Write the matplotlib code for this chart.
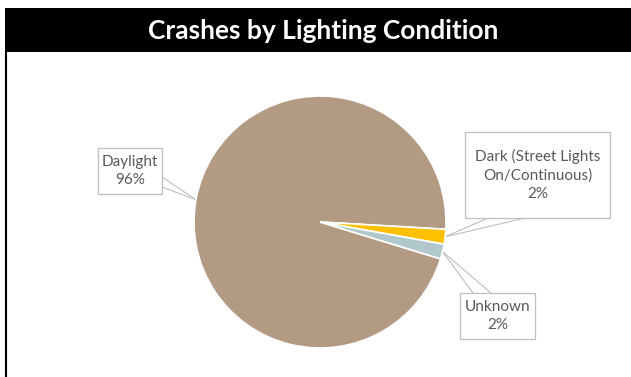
import numpy as np
import matplotlib
matplotlib.use("Agg")
import matplotlib.pyplot as plt
from matplotlib.patches import Rectangle

plt.rcParams['font.family'] = ['Lato', 'DejaVu Sans']

# data
title = "Crashes by Lighting Condition"
categories = ["Daylight", "Dark (Street Lights\nOn/Continuous)", "Unknown"]
shares = [96.2, 1.9, 1.9]
pct_labels = ["96%", "2%", "2%"]
colors = ["#B39B83", "#FFC000", "#B0C8CB"]

W, H = 631, 377
fig = plt.figure(figsize=(W / 100, H / 100), dpi=100)

# background axes in pixel coordinates (y down)
bg = fig.add_axes([0, 0, 1, 1])
bg.set_xlim(0, W)
bg.set_ylim(H, 0)
bg.axis("off")

# title bar and frame
bg.add_patch(Rectangle((5, 8), W - 5, 44, facecolor="black", edgecolor="none"))
bg.plot([6, 6], [52, H], color="black", lw=1.5)
bg.text(323, 31, title, color="white", fontsize=19, fontweight="bold",
        ha="center", va="center")

# pie
cx, cy, r = 320, 222, 126
pax = fig.add_axes([(cx - r) / W, (H - cy - r) / H, 2 * r / W, 2 * r / H])
wedges, _ = pax.pie(shares, colors=colors, startangle=-17, counterclock=False,
                    radius=1, wedgeprops=dict(edgecolor="white", linewidth=1.2))
pax.set_xlim(-1, 1)
pax.set_ylim(-1, 1)
pax.set_aspect("equal")
pax.axis("off")

# callout boxes (x0, y0, x1, y1) in pixels and pointer base points on the box
boxes = [(98, 148, 162, 194), (465, 132, 610, 218), (460, 293, 535, 339)]
bases = [[(162, 177), (162, 187)], [(488, 218), (525, 218)], [(473, 293), (491, 293)]]

grey = "#BFBFBF"
for w, cat, pct, box, base in zip(wedges, categories, pct_labels, boxes, bases):
    ang = np.deg2rad((w.theta1 + w.theta2) / 2)
    ax_, ay_ = cx + r * np.cos(ang), cy - r * np.sin(ang)
    for bx, by in base:
        bg.plot([bx, ax_], [by, ay_], color=grey, lw=0.8, zorder=3)
    x0, y0, x1, y1 = box
    bg.add_patch(Rectangle((x0, y0), x1 - x0, y1 - y0, facecolor="white",
                           edgecolor=grey, lw=0.9, zorder=4))
    bg.text((x0 + x1) / 2, (y0 + y1) / 2, cat + "\n" + pct, color="#595959",
            fontsize=11, ha="center", va="center", linespacing=1.35, zorder=5)

fig.savefig("out.png", dpi=100)
